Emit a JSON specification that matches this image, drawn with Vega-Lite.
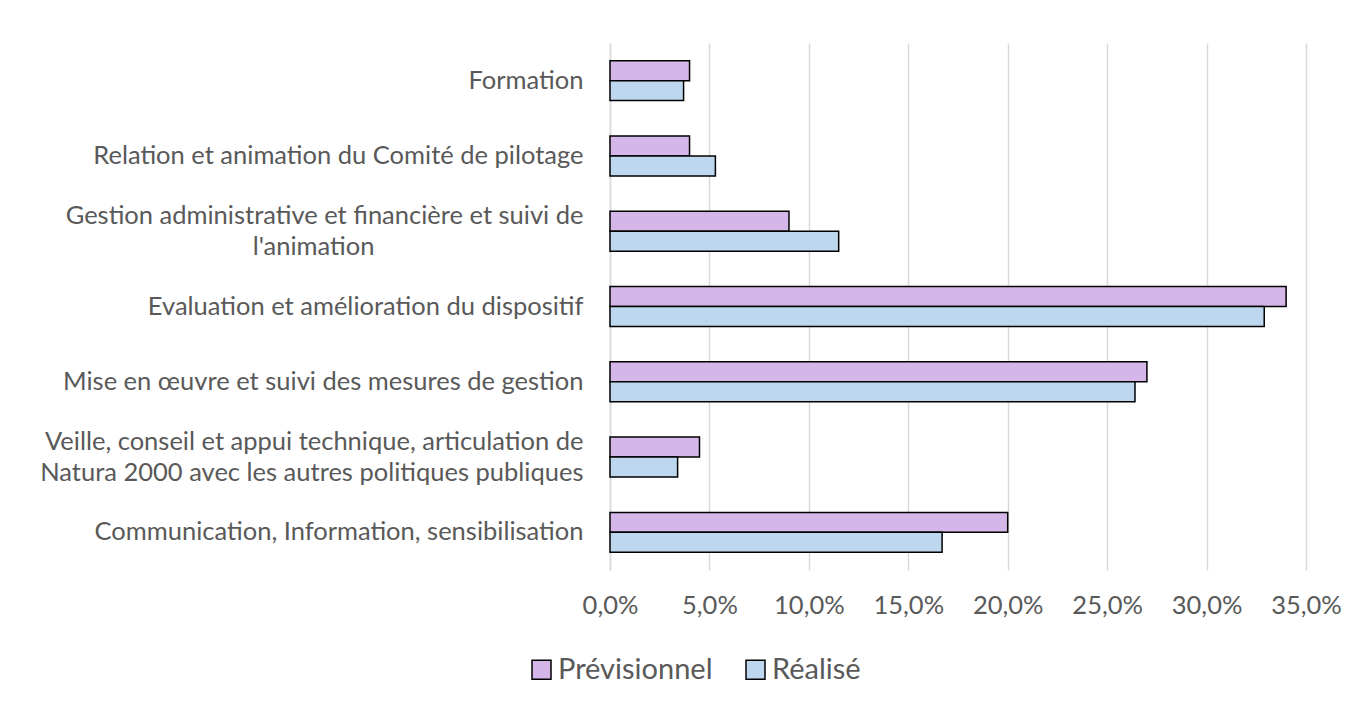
{
  "$schema": "https://vega.github.io/schema/vega-lite/v6.json",
  "autosize": {"type": "none"},
  "width": 696,
  "height": 527,
  "padding": {"left": 610, "top": 43, "right": 56, "bottom": 134},
  "background": "white",
  "config": {
    "view": {"stroke": null},
    "font": "Lato",
    "axis": {"labelFont": "Lato", "labelColor": "#595959"},
    "legend": {"labelFont": "Lato", "labelColor": "#595959"}
  },
  "data": {
    "values": [
      {"cat": "Formation", "serie": "Prévisionnel", "v": 0.040},
      {"cat": "Formation", "serie": "Réalisé", "v": 0.037},
      {"cat": "Relation et animation du Comité de pilotage", "serie": "Prévisionnel", "v": 0.040},
      {"cat": "Relation et animation du Comité de pilotage", "serie": "Réalisé", "v": 0.053},
      {"cat": "Gestion administrative et financière et suivi de|l'animation", "serie": "Prévisionnel", "v": 0.090},
      {"cat": "Gestion administrative et financière et suivi de|l'animation", "serie": "Réalisé", "v": 0.115},
      {"cat": "Evaluation et amélioration du dispositif", "serie": "Prévisionnel", "v": 0.340},
      {"cat": "Evaluation et amélioration du dispositif", "serie": "Réalisé", "v": 0.329},
      {"cat": "Mise en œuvre et suivi des mesures de gestion", "serie": "Prévisionnel", "v": 0.270},
      {"cat": "Mise en œuvre et suivi des mesures de gestion", "serie": "Réalisé", "v": 0.264},
      {"cat": "Veille, conseil et appui technique, articulation de|Natura 2000 avec les autres politiques publiques", "serie": "Prévisionnel", "v": 0.045},
      {"cat": "Veille, conseil et appui technique, articulation de|Natura 2000 avec les autres politiques publiques", "serie": "Réalisé", "v": 0.034},
      {"cat": "Communication, Information, sensibilisation", "serie": "Prévisionnel", "v": 0.200},
      {"cat": "Communication, Information, sensibilisation", "serie": "Réalisé", "v": 0.167}
    ]
  },
  "mark": {"type": "bar", "stroke": "black", "strokeWidth": 1.5},
  "encoding": {
    "y": {
      "field": "cat",
      "type": "nominal",
      "sort": null,
      "scale": {"paddingInner": 0.47, "paddingOuter": 0.235},
      "axis": {
        "title": null,
        "ticks": false,
        "domain": true,
        "domainColor": "#d9d9d9",
        "domainWidth": 1.5,
        "labelFontSize": 25.5,
        "labelPadding": 27,
        "labelLimit": 700,
        "labelLineHeight": 31,
        "labelOffset": {"condition": {"test": "indexof(datum.value, '|') >= 0", "value": -15.5}, "value": 0},
        "labelExpr": "test(/^Gestion/, datum.label) ? [split(datum.label, '|')[0], pad(split(datum.label, '|')[1], 22, '\u2800')] : split(datum.label, '|')"
      }
    },
    "yOffset": {
      "field": "serie",
      "type": "nominal",
      "sort": ["Prévisionnel", "Réalisé"],
      "scale": {"paddingInner": 0, "paddingOuter": 0}
    },
    "x": {
      "field": "v",
      "type": "quantitative",
      "scale": {"domain": [0, 0.35], "nice": false},
      "axis": {
        "title": null,
        "values": [0, 0.05, 0.1, 0.15, 0.2, 0.25, 0.3, 0.35],
        "labelExpr": "replace(format(datum.value, '.1%'), '.', ',')",
        "labelFlush": false,
        "labelOverlap": false,
        "domain": false,
        "ticks": false,
        "grid": true,
        "gridColor": "#d9d9d9",
        "gridWidth": 1.5,
        "labelFontSize": 25.5,
        "labelPadding": 23
      }
    },
    "color": {
      "field": "serie",
      "type": "nominal",
      "sort": ["Prévisionnel", "Réalisé"],
      "scale": {"domain": ["Prévisionnel", "Réalisé"], "range": ["#d4b6e8", "#bdd7ee"]},
      "legend": {
        "title": null,
        "orient": "none",
        "direction": "horizontal",
        "legendX": -83,
        "legendY": 612,
        "symbolType": "square",
        "symbolSize": 361,
        "symbolStrokeColor": "black",
        "symbolStrokeWidth": 1.5,
        "labelFontSize": 29,
        "labelOffset": 2,
        "columnPadding": 28
      }
    }
  }
}
